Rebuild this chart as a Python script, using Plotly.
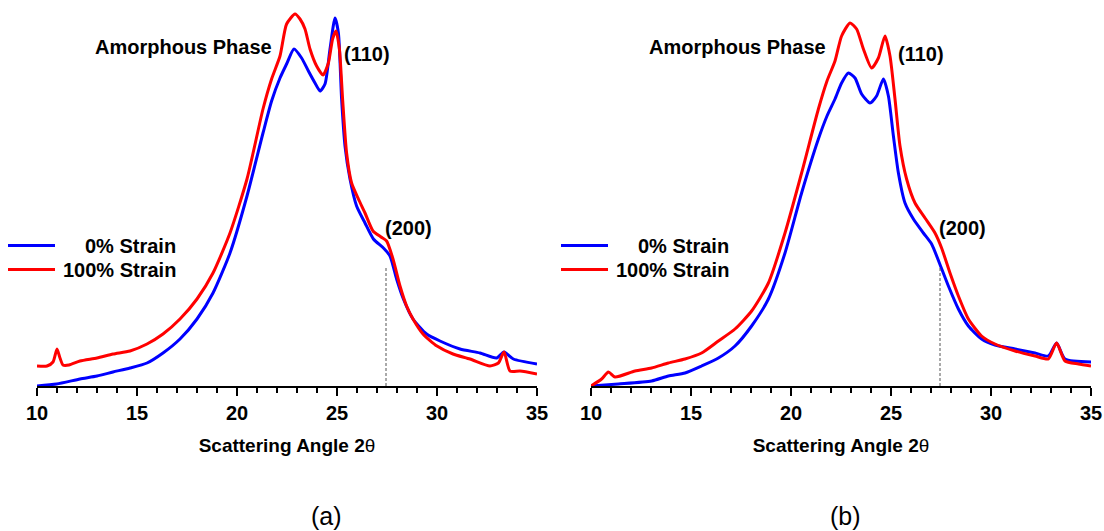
import plotly.graph_objects as go

# XRD patterns: scattering angle 2θ (deg) vs intensity (a.u.)
# Panel (a)
a_x_0 = [10.0, 10.98, 12.15, 13.0, 13.8, 14.65, 15.5, 16.3, 17.15, 18.0, 18.8, 19.65, 20.5, 21.3,
         21.73, 22.15, 22.48, 22.85, 23.23, 23.57, 23.9, 24.15, 24.4, 24.65, 24.9, 25.07, 25.23,
         25.4, 25.65, 25.98, 26.4, 26.82, 27.32, 27.65, 27.98, 28.32, 28.8, 29.48, 30.15, 31.15,
         32.15, 32.98, 33.35, 33.82, 35.0]
a_y_0 = [0, 2, 7, 10, 14, 18, 23, 33, 47, 67, 93, 133, 190, 253,
         285, 308, 322, 337, 328, 315, 303, 295, 302, 337, 368, 353, 287,
         240, 207, 180, 163, 147, 138, 130, 107, 87, 67, 52, 45, 37,
         33, 28, 34, 27, 22]

a_x_100 = [10.0, 10.5, 10.8, 11.0, 11.15, 11.3, 11.6, 12.15, 13.0, 13.8, 14.65, 15.5, 16.3, 17.15,
           18.0, 18.8, 19.65, 20.5, 21.3, 21.73, 22.15, 22.48, 22.9, 23.15, 23.4, 23.65, 23.98,
           24.3, 24.57, 24.78, 24.95, 25.12, 25.28, 25.48, 25.73, 26.07, 26.4, 26.8, 27.2, 27.48,
           27.8, 28.15, 28.48, 28.8, 29.3, 30.0, 30.8, 31.65, 32.65, 33.07, 33.35, 33.65, 34.15, 35.0]
a_y_100 = [20, 20, 24, 37, 28, 21, 21, 25, 28, 32, 35, 42, 52, 67,
           87, 113, 153, 207, 277, 307, 330, 362, 372, 367, 357, 337, 320,
           311, 323, 347, 355, 337, 287, 233, 203, 187, 173, 155, 149, 145,
           127, 100, 80, 67, 52, 40, 32, 27, 20, 23, 34, 15, 15, 12]

# Panel (b)
b_x_0 = [10.0, 11.37, 13.03, 13.87, 14.7, 15.53, 16.37, 17.2, 18.03, 18.87, 19.7, 20.53, 21.37,
         21.8, 22.2, 22.53, 22.87, 23.2, 23.53, 23.95, 24.28, 24.62, 24.87, 25.12, 25.37, 25.7,
         26.12, 26.62, 27.03, 27.42, 27.87, 28.37, 28.87, 29.53, 30.2, 31.2, 32.2, 32.87, 33.28,
         33.7, 35.0]
b_y_0 = [0, 2, 5, 10, 13, 20, 28, 40, 60, 87, 133, 193, 247,
         270, 287, 303, 313, 308, 292, 283, 290, 307, 290, 250, 213, 183,
         167, 153, 142, 123, 100, 77, 60, 47, 41, 37, 33, 30, 43,
         27, 24]

b_x_100 = [10.0, 10.53, 10.87, 11.2, 12.2, 13.03, 13.87, 14.7, 15.53, 16.37, 17.2, 18.03, 18.87,
           19.7, 20.53, 21.37, 21.8, 22.2, 22.53, 22.95, 23.28, 23.62, 24.03, 24.37, 24.7, 24.95,
           25.2, 25.45, 25.78, 26.2, 26.7, 27.2, 27.53, 27.95, 28.37, 28.87, 29.53, 30.2, 31.2,
           32.2, 32.87, 33.28, 33.7, 34.37, 35.0]
b_y_100 = [0, 7, 14, 9, 15, 18, 23, 27, 33, 45, 57, 75, 103,
           153, 213, 277, 305, 325, 350, 363, 357, 337, 318, 328, 350, 330,
           287, 240, 207, 183, 168, 153, 138, 113, 90, 67, 50, 42, 35,
           30, 27, 43, 25, 22, 20]

series_names = ["0% Strain", "100% Strain"]
series_colors = ["#0000FF", "#FF0000"]
peak_200 = 27.45
panel_labels = ["(a)", "(b)"]

FONT = "Liberation Sans, Arial, sans-serif"
W, H = 1104, 531
AXIS_Y = 386  # pixel row of the x axis line

fig = go.Figure()

panels = [
    ("x", "y", a_x_0, a_y_0, a_x_100, a_y_100),
    ("x2", "y2", b_x_0, b_y_0, b_x_100, b_y_100),
]
for xa, ya, x0, y0, x1, y1 in panels:
    for xs, ys, k in ((x0, y0, 0), (x1, y1, 1)):
        fig.add_trace(go.Scatter(x=xs, y=ys, mode="lines", name=series_names[k],
                                 xaxis=xa, yaxis=ya, showlegend=False,
                                 line=dict(color=series_colors[k], width=3,
                                           shape="spline", smoothing=0.6)))

xaxis_common = dict(
    range=[10, 35], showgrid=False, zeroline=False, showline=True, linecolor="black", linewidth=2,
    ticks="outside", ticklen=8, tickwidth=2, tickcolor="black", dtick=5, tick0=10,
    automargin=False,
    tickfont=dict(family=FONT, size=20, color="black", weight="bold"),
    minor=dict(dtick=1, ticks="outside", ticklen=5, tickwidth=1.5, tickcolor="black"),
    title=dict(text="<b>Scattering Angle 2</b>θ", font=dict(family=FONT, size=19, color="black"),
               standoff=16),
)
yaxis_common = dict(range=[0, AXIS_Y], visible=False, fixedrange=True)

fig.update_layout(
    width=W, height=H,
    margin=dict(l=0, r=0, t=0, b=H - AXIS_Y),
    plot_bgcolor="white", paper_bgcolor="white",
    showlegend=False,
    xaxis=dict(domain=[37 / W, 537 / W], anchor="y", **xaxis_common),
    yaxis=dict(domain=[0, 1], anchor="x", **yaxis_common),
    xaxis2=dict(domain=[591 / W, 1091 / W], anchor="y2", **xaxis_common),
    yaxis2=dict(domain=[0, 1], anchor="x2", **yaxis_common),
)


def py(pix):
    """Paper y coordinate for a pixel row."""
    return (AXIS_Y - pix) / AXIS_Y


def px(pix):
    return pix / W


bold = dict(family=FONT, size=20, color="black", weight="bold")
for i, (xa, ya) in enumerate([("x", "y"), ("x2", "y2")]):
    # (200) reflection marker
    fig.add_shape(type="line", xref=xa, yref=ya, x0=peak_200, x1=peak_200, y0=0, y1=120,
                  line=dict(color="#555555", width=1, dash="3px,2px"))
    fig.add_annotation(xref=xa, yref=ya, x=17.3, y=339, text="Amorphous Phase",
                       xanchor="center", yanchor="middle", showarrow=False, font=bold)
    fig.add_annotation(xref=xa, yref=ya, x=26.5, y=332, text="(110)",
                       xanchor="center", yanchor="middle", showarrow=False, font=bold)
    fig.add_annotation(xref=xa, yref=ya, x=28.58, y=158, text="(200)",
                       xanchor="center", yanchor="middle", showarrow=False, font=bold)

    # legend block
    off = 0 if i == 0 else 553
    for k, row in enumerate([245.5, 269.5]):
        fig.add_shape(type="line", xref="paper", yref="paper",
                      x0=px(8 + off), x1=px(55 + off), y0=py(row), y1=py(row),
                      line=dict(color=series_colors[k], width=3))
        fig.add_annotation(xref="paper", yref="paper", x=px(178 + off), y=py(row),
                           xanchor="right", yanchor="middle", text=series_names[k],
                           showarrow=False, font=bold)

    # panel label
    fig.add_annotation(xref="paper", yref="paper", x=px(326 if i == 0 else 845), y=py(516),
                       xanchor="center", yanchor="middle", text=panel_labels[i],
                       showarrow=False, font=dict(family=FONT, size=25, color="black"))

fig.write_html("out.html")
